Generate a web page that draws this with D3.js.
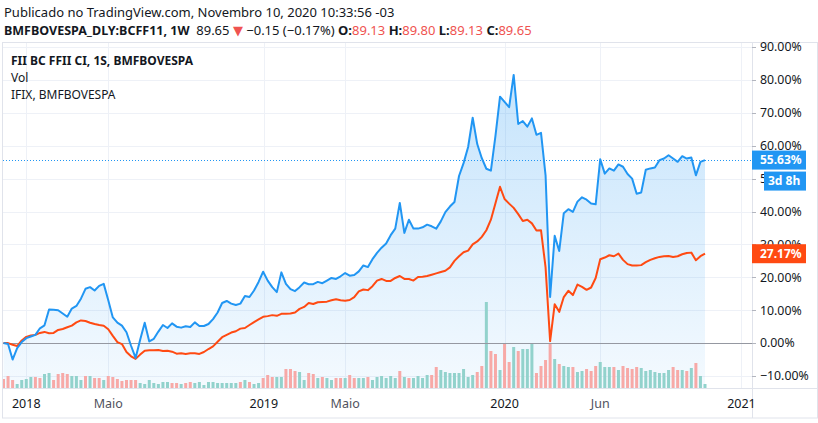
<!DOCTYPE html>
<html>
<head>
<meta charset="utf-8">
<script src="https://cdn.jsdelivr.net/npm/d3@7/dist/d3.min.js"></script>
<style>
  body { margin: 0; background: #fff; }
  svg { display: block; font-family: "Noto Sans", "DejaVu Sans", sans-serif; }
</style>
</head>
<body>
<div id="chart"></div>
<script>
// weekly bars, first one on 2017-11-27
const firstWeek = new Date(2017, 10, 27);

// BCFF11 change in %, weekly
const bcff = [
  0, -0.3, -5.0, -1.5, 0.3, 1.5, 2.0, 2.5, 4.5, 5.4,
  10.2, 10.1, 10.0, 9.0, 8.0, 10.5, 11.3, 13.5, 16.5, 17.0,
  16.0, 17.4, 18.0, 13.0, 7.8, 6.2, 5.3, 3.3, -0.8, -4.5,
  1.0, 6.2, 0.5, 1.3, 3.5, 5.5, 4.6, 6.0, 5.0, 4.7,
  5.1, 4.9, 6.3, 5.2, 5.2, 5.8, 7.3, 9.3, 12.2, 12.8,
  12.0, 11.6, 12.0, 14.3, 14.0, 16.0, 18.6, 21.7, 19.0, 17.0,
  15.5, 21.5, 18.0, 16.4, 15.8, 17.0, 18.4, 17.9, 17.9, 18.6,
  18.2, 19.0, 19.8, 19.5, 20.3, 21.3, 20.5, 20.7, 21.8, 23.6,
  23.1, 25.5, 27.4, 29.0, 30.3, 32.8, 34.8, 42.6, 33.5, 37.5,
  34.8, 34.8, 35.2, 36.0, 35.5, 34.8, 37.0, 39.8, 41.5, 42.9,
  50.8, 54.7, 59.6, 68.5, 60.5, 56.2, 53.0, 52.4, 63.0, 74.9,
  73.3, 71.7, 81.5, 66.6, 67.5, 65.8, 68.3, 63.3, 63.9, 51.0,
  14.0, 32.6, 28.0, 39.5, 40.7, 39.9, 43.0, 44.3, 43.6, 42.4,
  42.2, 55.9, 51.5, 53.1, 52.4, 54.3, 53.6, 51.4, 50.0, 45.4,
  45.8, 52.7, 53.1, 53.4, 55.6, 56.1, 57.1, 56.1, 55.1, 56.8,
  56.1, 56.4, 51.0, 55.1, 55.63
];

// IFIX change in %, weekly
const ifix = [
  0, 0.0, -0.5, -0.9, 0.8, 1.9, 2.3, 2.5, 3.1, 3.4,
  3.0, 3.1, 4.0, 4.3, 4.8, 5.3, 6.3, 6.9, 6.7, 6.2,
  5.8, 5.5, 5.3, 4.2, 2.2, 0.3, -0.3, -2.7, -4.0, -4.8,
  -3.5, -2.3, -2.2, -2.2, -2.1, -2.4, -2.3, -2.6, -3.2, -3.1,
  -3.3, -3.1, -3.1, -3.3, -2.7, -1.8, -1.0, 0.4, 1.8, 2.5,
  3.2, 3.6, 4.4, 4.6, 5.5, 6.4, 7.2, 8.0, 8.2, 8.5,
  8.3, 8.9, 8.9, 9.0, 9.3, 10.4, 11.0, 12.2, 11.9, 12.4,
  12.5, 12.6, 13.0, 13.3, 13.0, 12.9, 13.1, 14.0, 15.7, 16.3,
  16.1, 17.3, 19.0, 19.5, 18.9, 18.9, 19.8, 20.4, 19.5, 19.5,
  19.0, 20.1, 20.2, 20.4, 20.8, 21.2, 21.6, 22.0, 23.0, 25.0,
  26.4, 27.6, 28.1, 30.0, 30.9, 32.3, 34.3, 37.5, 42.5, 47.5,
  43.8, 42.4, 41.1, 39.2, 37.1, 37.5, 36.4, 34.2, 34.3, 23.0,
  0.6, 11.8, 9.5, 14.0, 15.9, 14.6, 17.8, 17.1, 16.2, 16.9,
  19.8, 25.5, 26.0, 26.7, 26.4, 27.2, 25.3, 24.0, 23.6, 23.6,
  23.7, 24.6, 25.3, 25.8, 26.2, 26.4, 26.5, 26.2, 26.4, 27.0,
  27.4, 27.5, 25.2, 26.4, 27.17
];

// weekly volume (thousands)
const volume = [
  9, 12, 8, 4, 8, 9, 11, 11, 10, 14,
  15, 8, 14, 15, 14, 12, 12, 8, 12, 12,
  10, 10, 8, 12, 11, 9, 7, 8, 8, 8,
  5, 4, 8, 5, 4, 6, 6, 5, 5, 4,
  5, 6, 5, 6, 3, 6, 6, 5, 5, 5,
  5, 5, 6, 8, 6, 4, 5, 10, 13, 11,
  11, 11, 19, 19, 17, 16, 8, 15, 14, 10,
  11, 10, 8, 10, 10, 10, 13, 10, 10, 10,
  11, 8, 11, 12, 10, 12, 10, 17, 11, 10,
  10, 12, 10, 13, 13, 21, 18, 16, 15, 15,
  15, 19, 11, 13, 16, 22, 86, 37, 34, 18,
  45, 26, 41, 37, 39, 39, 44, 15, 22, 28,
  45, 29, 24, 22, 21, 21, 16, 17, 19, 17,
  22, 26, 21, 21, 21, 18, 22, 20, 19, 21,
  20, 17, 18, 16, 15, 15, 18, 21, 18, 18,
  17, 20, 25, 12, 4
];
// u = close above open, d = close below open (10 weeks per chunk)
const volumeDir = [
  'ddduuuuddu', 'udddduuudu', 'dduddddddd', 'uuuuuuuddu',
  'dduuuuuuuu', 'uududuuddd', 'uuddduuddu', 'duuddudduu',
  'duuuuuudud', 'uuuudduuuu', 'uuuudduddu', 'dduduuuddd',
  'duduuduudd', 'duuududddd', 'uuuuuuuddu', 'duduu'
].join('');

const yTicks = [-10, 0, 10, 20, 30, 40, 50, 60, 70, 80, 90];
const timeTicks = [
  { date: new Date(2018, 0, 1), label: '2018', year: true },
  { date: new Date(2018, 4, 7), label: 'Maio', year: false },
  { date: new Date(2019, 0, 1), label: '2019', year: true },
  { date: new Date(2019, 4, 6), label: 'Maio', year: false },
  { date: new Date(2020, 0, 6), label: '2020', year: true },
  { date: new Date(2020, 5, 1), label: 'Jun', year: false },
  { date: new Date(2021, 0, 4), label: '2021', year: true }
];

const dates = bcff.map((d, i) => d3.timeWeek.offset(firstWeek, i));
const data = dates.map((d, i) => ({
  date: d, bcff: bcff[i], ifix: ifix[i], vol: volume[i], up: volumeDir[i] === 'u'
}));

const W = 818, H = 423;
const plot = { left: 3, right: 752, top: 43, bottom: 388 };

const svg = d3.select('#chart').append('svg')
  .attr('width', W).attr('height', H);

const x = d3.scaleTime()
  .domain([dates[0], dates[dates.length - 1]])
  .range([3.5, 705]);
const y = d3.scaleLinear().domain([-10, 90]).range([376, 47]);
const yVol = d3.scaleLinear().domain([0, d3.max(volume)]).range([plot.bottom, 302]);

// gradient for the area
const defs = svg.append('defs');
const grad = defs.append('linearGradient')
  .attr('id', 'areaGrad')
  .attr('gradientUnits', 'userSpaceOnUse')
  .attr('x1', 0).attr('x2', 0).attr('y1', y(82)).attr('y2', plot.bottom);
grad.append('stop').attr('offset', 0).attr('stop-color', '#2196f3').attr('stop-opacity', 0.26);
grad.append('stop').attr('offset', 1).attr('stop-color', '#2196f3').attr('stop-opacity', 0.05);

defs.append('clipPath').attr('id', 'plotClip')
  .append('rect')
  .attr('x', plot.left).attr('y', plot.top)
  .attr('width', plot.right - plot.left).attr('height', plot.bottom - plot.top);

// frame
svg.append('rect')
  .attr('x', 2.5).attr('y', 42.5)
  .attr('width', W - 3).attr('height', 418 - 42.5)
  .attr('fill', 'none').attr('stroke', '#e0e3eb');

// grid
const grid = svg.append('g');
grid.selectAll('.hgrid').data(yTicks.filter(t => t !== 0))
  .enter().append('line')
  .attr('x1', plot.left).attr('x2', plot.right)
  .attr('y1', d => Math.round(y(d)) + 0.5).attr('y2', d => Math.round(y(d)) + 0.5)
  .attr('stroke', '#eef1f7');
grid.selectAll('.vgrid').data(timeTicks)
  .enter().append('line')
  .attr('x1', d => Math.round(x(d.date)) + 0.5).attr('x2', d => Math.round(x(d.date)) + 0.5)
  .attr('y1', plot.top).attr('y2', plot.bottom)
  .attr('stroke', '#eef1f7');

const g = svg.append('g').attr('clip-path', 'url(#plotClip)');

// area under BCFF11
g.append('path')
  .datum(data)
  .attr('fill', 'url(#areaGrad)')
  .attr('d', d3.area()
    .x(d => x(d.date))
    .y0(plot.bottom)
    .y1(d => y(d.bcff)));

// volume bars
g.selectAll('.vol').data(data)
  .enter().append('rect')
  .attr('x', d => x(d.date) - 1.5)
  .attr('width', 3)
  .attr('y', d => yVol(d.vol))
  .attr('height', d => plot.bottom - yVol(d.vol))
  .attr('fill', d => d.up ? '#92d2cc' : '#f7a9a7');

// zero line
g.append('line')
  .attr('x1', plot.left).attr('x2', plot.right)
  .attr('y1', Math.round(y(0)) + 0.5).attr('y2', Math.round(y(0)) + 0.5)
  .attr('stroke', '#9598a1');

// last value dotted line
const lastB = bcff[bcff.length - 1];
const lastI = ifix[ifix.length - 1];
g.append('line')
  .attr('x1', plot.left).attr('x2', plot.right)
  .attr('y1', Math.round(y(lastB)) + 0.5).attr('y2', Math.round(y(lastB)) + 0.5)
  .attr('stroke', '#2196f3').attr('stroke-dasharray', '1,2');

// lines
g.append('path')
  .datum(data)
  .attr('fill', 'none').attr('stroke', '#ff4a12').attr('stroke-width', 2)
  .attr('stroke-linejoin', 'round')
  .attr('d', d3.line().x(d => x(d.date)).y(d => y(d.ifix)));

g.append('path')
  .datum(data)
  .attr('fill', 'none').attr('stroke', '#2196f3').attr('stroke-width', 2)
  .attr('stroke-linejoin', 'round')
  .attr('d', d3.line().x(d => x(d.date)).y(d => y(d.bcff)));

// axis separators
svg.append('line')
  .attr('x1', plot.right + 0.5).attr('x2', plot.right + 0.5)
  .attr('y1', 42.5).attr('y2', 418)
  .attr('stroke', '#e0e3eb');
svg.append('line')
  .attr('x1', 2.5).attr('x2', W)
  .attr('y1', plot.bottom + 0.5).attr('y2', plot.bottom + 0.5)
  .attr('stroke', '#e0e3eb');

// y axis
const yAxis = svg.append('g').attr('font-size', 12.3).attr('fill', '#131722');
yAxis.selectAll('.ytick').data(yTicks)
  .enter().append('line')
  .attr('x1', plot.right).attr('x2', plot.right + 4)
  .attr('y1', d => Math.round(y(d)) + 0.5).attr('y2', d => Math.round(y(d)) + 0.5)
  .attr('stroke', '#b2b5be');
yAxis.selectAll('.ylab').data(yTicks)
  .enter().append('text')
  .attr('x', 760).attr('y', d => y(d)).attr('dy', '0.35em')
  .text(d => (d < 0 ? '\u2212' : '') + Math.abs(d).toFixed(2) + '%');

// price labels, drawn over the axis labels like the original
function priceLabel(val, color) {
  const yy = y(val);
  svg.append('rect')
    .attr('x', plot.right).attr('y', yy - 9.5)
    .attr('width', 54).attr('height', 19)
    .attr('fill', color);
  svg.append('text')
    .attr('x', 760).attr('y', yy).attr('dy', '0.35em')
    .attr('font-size', 12).attr('font-weight', 'bold').attr('fill', '#fff')
    .text(val.toFixed(2) + '%');
}
priceLabel(lastI, '#ff4a12');
priceLabel(lastB, '#2196f3');
svg.append('rect')
  .attr('x', 764).attr('y', y(lastB) + 11.5)
  .attr('width', 42).attr('height', 19)
  .attr('fill', '#2196f3');
svg.append('text')
  .attr('x', 768).attr('y', y(lastB) + 21).attr('dy', '0.35em')
  .attr('font-size', 12).attr('font-weight', 'bold').attr('fill', '#fff')
  .text('3d 8h');

// time axis
svg.selectAll('.xlab').data(timeTicks)
  .enter().append('text')
  .attr('x', d => x(d.date)).attr('y', 408)
  .attr('text-anchor', 'middle')
  .attr('font-size', 12.5)
  .attr('fill', d => d.year ? '#131722' : '#50535e')
  .text(d => d.label);

// header
svg.append('text')
  .attr('x', 4).attr('y', 17)
  .attr('font-size', 13).attr('fill', '#131722')
  .text('Publicado no TradingView.com, Novembro 10, 2020 10:33:56 -03');

const head = svg.append('text')
  .attr('x', 4).attr('y', 35)
  .attr('font-size', 13).attr('fill', '#131722');
const red = '#ef5350';
[
  ['BMFBOVESPA_DLY:BCFF11, 1W', 'bold', '#131722', 12.5],
  ['\u00a0 89.65 ', 'normal', '#131722'],
  ['\u25bc', 'normal', red],
  [' \u22120.15 (\u22120.17%) ', 'normal', '#131722'],
  ['O:', 'bold', '#131722'], ['89.13 ', 'normal', red],
  ['H:', 'bold', '#131722'], ['89.80 ', 'normal', red],
  ['L:', 'bold', '#131722'], ['89.13 ', 'normal', red],
  ['C:', 'bold', '#131722'], ['89.65', 'normal', red]
].forEach(s => {
  const t = head.append('tspan').attr('font-weight', s[1]).attr('fill', s[2]).text(s[0]);
  if (s[3]) t.attr('font-size', s[3]);
});

// legend
const legend = svg.append('g').attr('font-size', 12).attr('fill', '#131722');
legend.append('text').attr('x', 11).attr('y', 65).attr('font-weight', 'bold')
  .text('FII BC FFII CI, 1S, BMFBOVESPA');
legend.append('text').attr('x', 11).attr('y', 82).text('Vol');
legend.append('text').attr('x', 11).attr('y', 99).text('IFIX, BMFBOVESPA');
</script>
</body>
</html>
